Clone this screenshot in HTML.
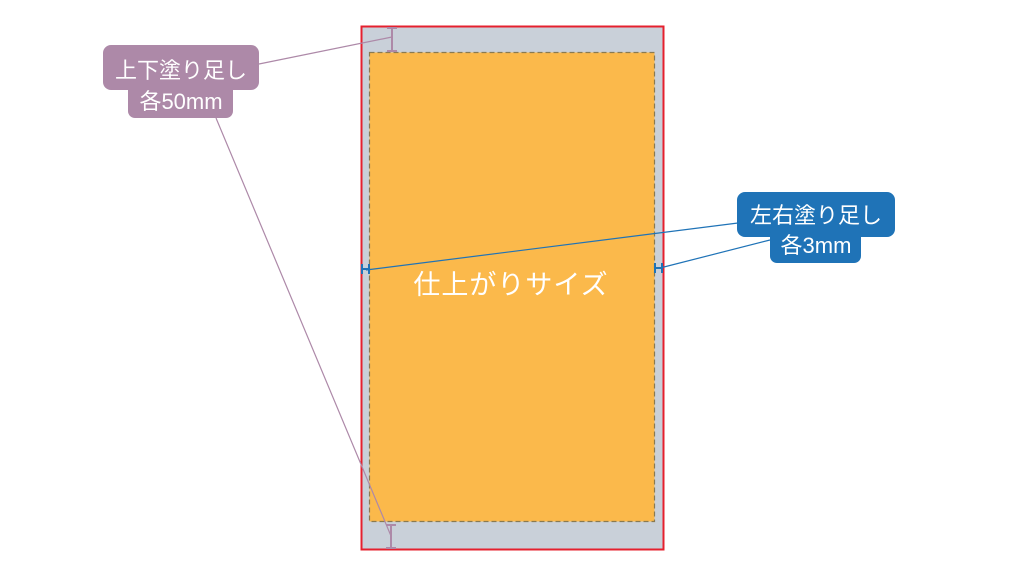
<!DOCTYPE html>
<html><head><meta charset="utf-8"><style>
html,body{margin:0;padding:0;background:#fff;width:1024px;height:576px;overflow:hidden}
text{font-family:"Liberation Sans","Noto Sans CJK JP",sans-serif;fill:#fff}
</style></head><body>
<svg width="1024" height="576" viewBox="0 0 1024 576" xmlns="http://www.w3.org/2000/svg">
<rect x="361.5" y="26.5" width="302" height="523" fill="#c9d0d9" stroke="#e5202e" stroke-width="2"/>
<rect x="369.5" y="52.5" width="285" height="469" fill="#fbb94b" stroke="#8a7a50" stroke-width="1.2" stroke-dasharray="5,3"/>
<text x="511" y="294" font-size="27" text-anchor="middle" letter-spacing="1">仕上がりサイズ</text>
<g stroke="#ad89a8" stroke-width="2" fill="none">
<line x1="392" y1="28" x2="392" y2="51"/><line x1="387" y1="28" x2="397" y2="28"/><line x1="387" y1="51" x2="397" y2="51"/>
<line x1="391" y1="525" x2="391" y2="548"/><line x1="386" y1="525" x2="396" y2="525"/><line x1="386" y1="548" x2="396" y2="548"/>
</g>
<g stroke="#ad89a8" stroke-width="1.2">
<line x1="259" y1="64" x2="392" y2="37"/>
<line x1="216" y1="118" x2="391" y2="536"/>
</g>
<g stroke="#1f73b7" stroke-width="2" fill="none">
<line x1="362" y1="269" x2="369" y2="269"/><line x1="362" y1="264" x2="362" y2="274"/><line x1="369" y1="264" x2="369" y2="274"/>
<line x1="655" y1="268" x2="662" y2="268"/><line x1="655" y1="263" x2="655" y2="273"/><line x1="662" y1="263" x2="662" y2="273"/>
</g>
<g stroke="#1f73b7" stroke-width="1.2">
<line x1="738" y1="223" x2="366" y2="270"/>
<line x1="770" y1="240" x2="660" y2="268"/>
</g>
<rect x="103" y="45" width="156" height="45" rx="8" fill="#ad89a8"/>
<rect x="128" y="80" width="105" height="38" rx="7" fill="#ad89a8"/>
<text x="181" y="78" font-size="22" text-anchor="middle">上下塗り足し</text>
<text x="181" y="109" font-size="22" text-anchor="middle">各50mm</text>
<rect x="737" y="192" width="158" height="45" rx="8" fill="#1f73b7"/>
<rect x="770" y="226" width="91" height="37" rx="7" fill="#1f73b7"/>
<text x="816" y="223" font-size="22" text-anchor="middle">左右塗り足し</text>
<text x="816" y="253" font-size="22" text-anchor="middle">各3mm</text>
</svg>
</body></html>
